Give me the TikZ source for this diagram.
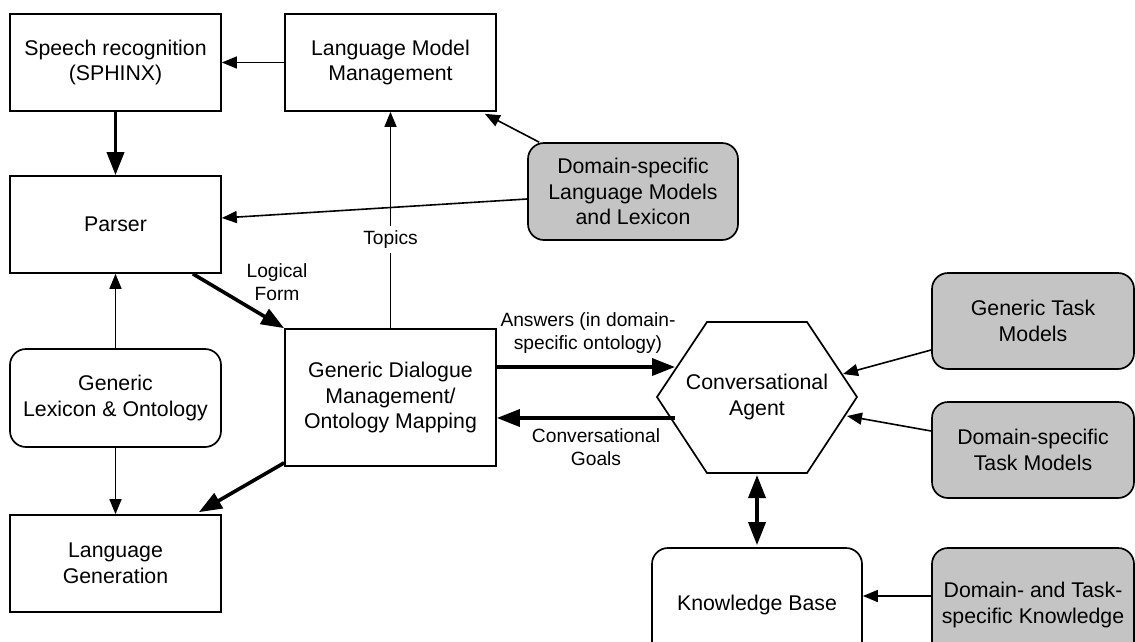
\documentclass[tikz,border=0pt]{standalone}
\usepackage{fontspec}
\setmainfont{Liberation Sans}
\usetikzlibrary{arrows.meta}
\definecolor{boxgray}{RGB}{196,196,196}
\begin{document}
\begin{tikzpicture}[x=1pt,y=-1pt,
  every node/.style={font=\fontsize{21.3}{25.5}\selectfont, align=center, inner sep=0pt},
  box/.style={draw, line width=1.7pt, minimum width=211pt, minimum height=97pt},
  rbox/.style={box, rounded corners=16pt},
  gbox/.style={rbox, fill=boxgray},
  thinarr/.style={line width=1.6pt, -{Triangle[length=15pt,width=12pt]}},
  thickarr/.style={line width=3.6pt, -{Triangle[length=23pt,width=17pt]}},
  lbl/.style={font=\fontsize{19.2}{23}\selectfont}]
\useasboundingbox (0,0) rectangle (1135,641);
\clip (0,0) rectangle (1135,641);

% nodes
\node[box] (sr) at (115.5,62.5) {Speech recognition\\(SPHINX)};
\node[box] (lmm) at (390.5,62.5) {Language Model\\Management};
\node[box] (parser) at (115.5,224.5) {Parser};
\node[gbox, minimum width=210pt] (dslm) at (633,191.5) {Domain-specific\\Language Models\\and Lexicon};
\node[rbox, minimum height=98pt] (glo) at (115.5,398) {Generic\\Lexicon \& Ontology};
\node[box] (lg) at (115.5,563.5) {Language\\Generation};
\node[box, minimum height=137pt] (dlg) at (390.5,397.5) {Generic Dialogue\\Management/\\Ontology Mapping};

\draw[line width=1.7pt] (657,397) -- (707,322) -- (807,322) -- (857,397) -- (807,473) -- (707,473) -- cycle;
\node (ca) at (757,397) {Conversational\\Agent};
\coordinate (caA) at (675,367);
\coordinate (caG) at (675,418);
\coordinate (caT) at (843,374);
\coordinate (caD) at (847,416);
\coordinate (caB) at (757,475);

\node[gbox, minimum width=202pt, minimum height=96pt] (gtm) at (1033,321) {Generic Task\\Models};
\node[gbox, minimum width=202pt, minimum height=96pt] (dstm) at (1033,450) {Domain-specific\\Task Models};
\node[rbox, minimum width=210pt, minimum height=114pt] (kb) at (757,605) {Knowledge Base};
\node[gbox, minimum width=202pt, minimum height=114pt] (dtk) at (1033,605) {Domain- and Task-\\specific Knowledge};

% connectors
\draw[thinarr] (lmm.west) -- (sr.east);
\draw[thickarr] (sr.south) -- (parser.north);
\draw[thinarr] ([xshift=12pt]dslm.north west) -- ([xshift=-12pt,yshift=-2pt]lmm.south east);
\draw[thinarr] ([yshift=-7.5pt]dslm.west) -- ([yshift=6.5pt]parser.east);
\draw[thinarr] (dlg.north) -- node[pos=0.41, fill=white, lbl, inner sep=5pt] (topics) {Topics} (lmm.south);
\draw[thickarr] ([xshift=-29pt]parser.south east) -- (dlg.north west);
\node[lbl] (lf) at (277,282) {Logical\\Form};
\draw[thickarr] ([yshift=4pt]dlg.south west) -- ([xshift=-23pt,yshift=2pt]lg.north east);
\draw[thinarr] (glo.north) -- (parser.south);
\draw[thinarr] (glo.south) -- (lg.north);
\draw[thickarr] ([yshift=30.5pt]dlg.east) -- (caA);
\node[lbl] (ans) at (588,333.5) {Answers (in domain-\\specific ontology)};
\draw[thickarr] (caG) -- ([yshift=-20.5pt]dlg.east);
\node[lbl] (goals) at (596,447) {Conversational\\Goals};
\draw[thinarr] ([yshift=-29pt]gtm.west) -- (caT);
\draw[thinarr] ([yshift=19pt]dstm.west) -- (caD);
\draw[thinarr] ([yshift=9pt]dtk.west) -- ([yshift=9pt]kb.east);
\draw[line width=3.6pt, {Triangle[length=23pt,width=17pt]}-{Triangle[length=23pt,width=17pt]}, shorten >=2pt] (caB) -- (kb.north);
\end{tikzpicture}
\end{document}
